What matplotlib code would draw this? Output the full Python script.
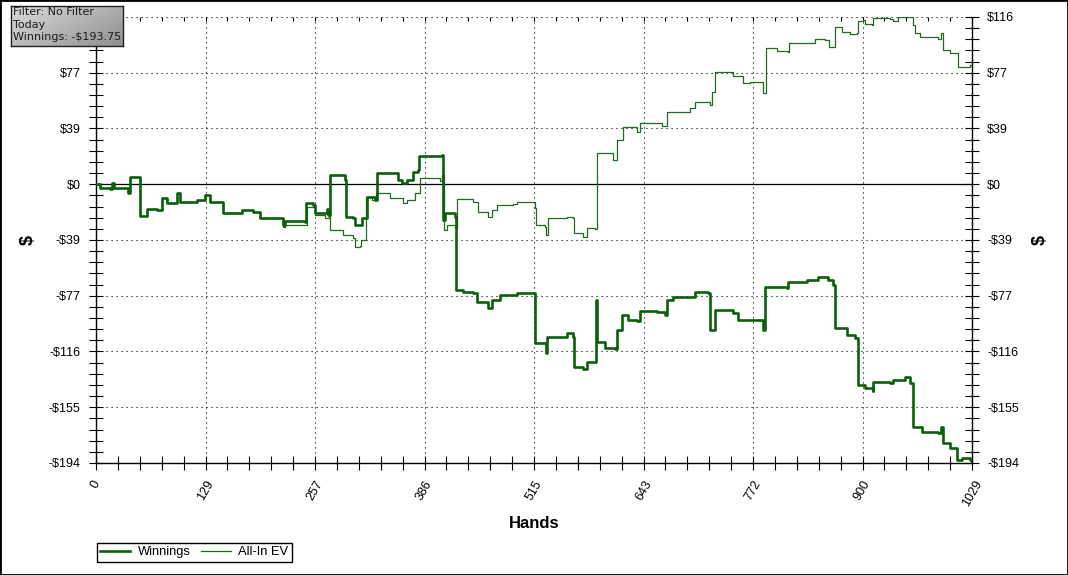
import matplotlib
matplotlib.use('Agg')
import matplotlib.pyplot as plt
import numpy as np
from matplotlib.ticker import FixedLocator, MultipleLocator
from matplotlib.patches import Rectangle
from matplotlib.lines import Line2D

plt.rcParams['font.family'] = ['Liberation Sans', 'DejaVu Sans']

# ---------------- data ----------------
win_hands = [0, 5, 16, 19, 21, 38, 40, 52, 52, 60, 72, 78, 83, 95, 99, 119, 128, 134, 149, 172,
             184, 193, 220, 222, 246, 247, 255, 257, 269, 271, 273, 275, 292, 294, 302, 304, 310,
             312, 317, 318, 328, 330, 355, 359, 365, 372, 378, 379, 406, 408, 410, 422, 423, 431,
             443, 448, 460, 465, 475, 495, 506, 516, 516, 527, 529, 530, 553, 560, 562, 572, 577,
             586, 587, 589, 592, 598, 610, 612, 618, 625, 636, 639, 659, 668, 671, 678, 701, 704,
             719, 721, 727, 727, 748, 754, 771, 784, 786, 812, 813, 835, 848, 860, 866, 868, 882,
             892, 895, 903, 913, 913, 933, 936, 950, 956, 960, 970, 989, 993, 995, 1003, 1011,
             1017, 1027, 1029]
win_values = [0, -2.8, -3.5, 0.7, -2.8, -6.3, 4.9, 2.8, -22.2, -17.4, -18.1, -9.7, -13.2, -6.3,
              -12.5, -11.1, -7.6, -12.5, -20.2, -18.1, -19.5, -23.6, -28.5, -25.7, -26.4, -13.2,
              -14.6, -20.2, -20.2, -17.4, -21.5, 6.3, 2.8, -22.9, -23.6, -28.5, -28.5, -23.6,
              -23.6, -9.0, -11.1, 7.6, 2.8, 0.7, 2.8, 8.3, 9.7, 19.5, 20.2, -25.0, -20.2, -22.9,
              -73.7, -75.1, -75.8, -82.0, -86.2, -80.6, -77.2, -75.8, -75.8, -80.6, -110.5,
              -110.5, -117.5, -106.3, -103.6, -106.3, -127.2, -128.6, -123.7, -123.7, -80.6,
              -109.8, -109.8, -114.0, -114.7, -101.5, -91.1, -94.5, -95.2, -88.3, -89.0, -91.1,
              -80.6, -78.5, -78.5, -75.1, -75.8, -101.5, -101.5, -87.6, -89.7, -94.5, -94.5,
              -101.5, -71.6, -72.3, -68.1, -66.7, -64.6, -66.7, -70.2, -100.1, -105.0, -107.1,
              -139.7, -141.8, -143.9, -137.6, -138.3, -136.2, -134.2, -138.3, -168.9, -172.4,
              -173.1, -168.9, -180.0, -183.5, -191.9, -190.5, -191.9, -193.75]

ev_hands = [0, 5, 16, 19, 21, 38, 40, 52, 52, 60, 72, 78, 83, 95, 99, 119, 128, 134, 149, 172,
            184, 193, 220, 222, 246, 248, 257, 269, 274, 275, 290, 302, 304, 310, 311, 316, 317,
            324, 328, 329, 345, 361, 365, 375, 381, 404, 406, 409, 412, 422, 424, 443, 449, 460,
            465, 471, 490, 495, 506, 516, 517, 527, 529, 531, 553, 560, 562, 572, 577, 586, 589,
            598, 607, 612, 619, 636, 639, 665, 671, 698, 704, 721, 724, 727, 748, 760, 768, 784,
            787, 800, 813, 814, 833, 845, 856, 861, 866, 868, 876, 886, 894, 895, 901, 903, 912,
            913, 933, 936, 942, 950, 954, 960, 962, 968, 989, 993, 995, 1003, 1013, 1027, 1029]
ev_values = [0, -2.8, -3.5, 0.7, -2.8, -6.3, 4.9, 2.8, -22.2, -17.4, -18.1, -9.7, -13.2, -6.3,
             -12.5, -11.1, -7.6, -12.5, -20.2, -18.1, -19.5, -23.6,
             -29.9, -28.5, -28.5, -16.0, -21.5, -23.6, -20.9, -32.0, -35.4, -37.5, -43.8, -43.1,
             -38.9, -38.9, -9.0, -11.1, -10.4, -6.3, -9.7, -13.2, -11.1, -6.3, 4.2, 2.1, 6.3,
             -32.0, -28.5, -30.6, -10.4, -12.5, -19.5, -22.9, -18.1, -14.6, -13.9, -12.5, -12.5,
             -16.7, -28.5, -29.9, -35.4, -23.6, -22.9, -23.6, -34.1, -36.8, -30.6, -31.3, 21.5,
             21.5, 16.7, 30.6, 39.6, 36.1, 42.4, 40.3, 50.0, 52.8, 57.0, 54.9, 63.9, 77.9, 75.1,
             70.2, 70.9, 63.3, 94.5, 92.4, 91.8, 98.0, 98.0, 100.8, 100.1, 95.2, 95.2, 109.1,
             105.7, 104.3, 105.0, 113.3, 114.0, 111.2, 110.5, 115.4, 114.7, 113.3, 116.1, 116.2,
             116.1, 110.5, 105.0, 102.2, 100.8, 105.0, 93.1, 91.1, 81.3, 82.7, 82.0]

x_ticks = [0, 128.625, 257.25, 385.875, 514.5, 643.125, 771.75, 900.375, 1029]
x_labels = ['0', '129', '257', '386', '515', '643', '772', '900', '1029']
y_ticks = [-193.75, -155, -116.25, -77.5, -38.75, 0, 38.75, 77.5, 116.25]
y_labels = ['-$194', '-$155', '-$116', '-$77', '-$39', '$0', '$39', '$77', '$116']
series_names = ['Winnings', 'All-In EV']
info_text = "Filter: No Filter\nToday\nWinnings: -$193.75"

# ---------------- figure ----------------
W, H = 1068, 575
fig = plt.figure(figsize=(W / 100, H / 100), dpi=100)
ax = fig.add_axes([96 / W, 1 - 463 / H, 876 / W, 446 / H])

win_color = '#0b600b'
ev_color = '#236b23'
ax.axhline(0, color='black', lw=0.9, zorder=2)
ax.plot(ev_hands, ev_values, color=ev_color, lw=0.9, zorder=3, drawstyle='steps-post')
ax.plot(win_hands, win_values, color=win_color, lw=1.9, zorder=4, drawstyle='steps-post')

ax.set_xlim(0, 1029)
ax.set_ylim(-193.75, 116.25)

ax.xaxis.set_major_locator(FixedLocator(x_ticks))
ax.xaxis.set_minor_locator(MultipleLocator(1029 / 40))
ax.set_xticklabels(x_labels, rotation=60, fontsize=9, ha='center', va='top')
ax.yaxis.set_major_locator(FixedLocator(y_ticks))
ax.yaxis.set_minor_locator(MultipleLocator(7.75))
ax.set_yticklabels(y_labels, fontsize=9)

ax.grid(which='major', color='black', linestyle=(0, (1, 3.5)), linewidth=0.8)
ax.set_axisbelow(True)

for s in ['left', 'right', 'bottom']:
    ax.spines[s].set_linewidth(1.0)
ax.spines['top'].set_visible(False)

ax.tick_params(axis='both', which='both', direction='inout', length=10, width=0.8, pad=6)
ax.tick_params(axis='y', which='both', left=True, right=True, labelleft=True, labelright=True)
ax.tick_params(axis='x', which='both', bottom=True, top=False, pad=6)

# the top-left label is hidden behind the info box in the reference
ax.yaxis.get_major_ticks()[-1].label1.set_visible(False)

secx = ax.secondary_xaxis('top')
secx.xaxis.set_major_locator(FixedLocator(x_ticks))
secx.xaxis.set_minor_locator(MultipleLocator(1029 / 40))
secx.tick_params(axis='x', which='both', direction='in', length=3, width=0.8, labeltop=False)
secx.spines['top'].set_visible(False)

# axis labels
fig.text(534 / W, 1 - 523 / H, 'Hands', ha='center', va='center', fontsize=12, fontweight='bold')
fig.text(28 / W, 1 - 240 / H, '$', ha='center', va='center', fontsize=13, fontweight='bold', rotation=90)
fig.text(1040 / W, 1 - 240 / H, '$', ha='center', va='center', fontsize=13, fontweight='bold', rotation=90)

# legend
handles = [Line2D([], [], color=win_color, lw=1.9), Line2D([], [], color=ev_color, lw=0.9)]
leg = fig.legend(handles, series_names, loc='upper left', bbox_to_anchor=(97 / W, 1 - 543 / H),
                 ncol=2, frameon=True, fancybox=False, edgecolor='black', framealpha=1,
                 fontsize=9.3, borderpad=0.25, handlelength=2.3, handletextpad=0.6,
                 columnspacing=0.8, borderaxespad=0)
leg.get_frame().set_linewidth(1.0)

# info box with gray gradient
bax = fig.add_axes([11 / W, 1 - 46 / H, 112 / W, 40 / H], zorder=10)
gx, gy = np.meshgrid(np.linspace(0, 1, 120), np.linspace(0, 1, 40))
grad = 0.86 - 0.30 * (0.6 * gx + 0.4 * gy)
bax.imshow(grad, cmap='gray', vmin=0, vmax=1, aspect='auto', extent=(0, 1, 1, 0))
bax.set_xlim(0, 1)
bax.set_ylim(1, 0)
bax.set_xticks([])
bax.set_yticks([])
for s in bax.spines.values():
    s.set_color('#202020')
    s.set_linewidth(1.0)
bax.text(0.02, 0.97, info_text, ha='left', va='top', fontsize=8, family='DejaVu Sans',
         color='#1a1a1a', linespacing=1.3, transform=bax.transAxes)

# outer border
fig.add_artist(Rectangle((0, 0), 1, 1, transform=fig.transFigure, fill=False,
                         edgecolor='black', lw=2))

fig.savefig('out.png', dpi=100)
